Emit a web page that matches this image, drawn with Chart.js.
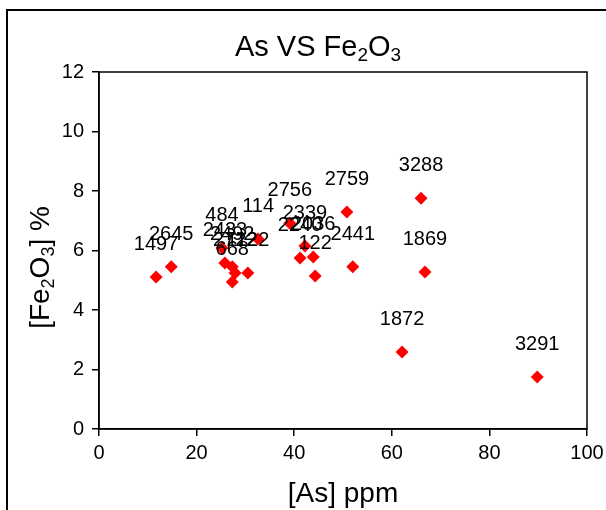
<!DOCTYPE html>
<html>
<head>
<meta charset="utf-8">
<script src="https://cdn.jsdelivr.net/npm/chart.js@4/dist/chart.umd.min.js"></script>
<style>
  body { margin: 0; background: #fff; }
  canvas { display: block; }
</style>
</head>
<body>
<canvas id="chart" width="606" height="510"></canvas>
<script>
// Sample numbers, arsenic (ppm) and iron oxide (%)
const sampleIds = ['1497', '2645', '484', '2433', '2492', '2722', '668', '1122', '114',
  '2756', '2339', '2240', '2036', '122', '2759', '2441', '3288', '1869', '1872', '3291'];
const asPpm = [11.7, 14.8, 25.2, 25.8, 27.3, 27.9, 27.3, 30.5, 32.6,
  39.1, 42.2, 41.2, 43.9, 44.3, 50.8, 52.0, 66.0, 66.8, 62.1, 89.8];
const fe2o3Pct = [5.11, 5.45, 6.08, 5.58, 5.45, 5.24, 4.94, 5.24, 6.39,
  6.92, 6.15, 5.75, 5.78, 5.14, 7.29, 5.45, 7.76, 5.28, 2.59, 1.75];

const xTicks = [0, 20, 40, 60, 80, 100];
const yTicks = [0, 2, 4, 6, 8, 10, 12];

const FONT = 'Arial, "Liberation Sans", sans-serif';

// Draw text with subscript runs, centred on (x, y) baseline
function drawRich(ctx, parts, x, y, size) {
  const subSize = Math.round(size * 0.66);
  let total = 0;
  parts.forEach(p => {
    ctx.font = (p.sub ? subSize : size) + 'px ' + FONT;
    p.w = ctx.measureText(p.t).width;
    total += p.w;
  });
  let cx = x - total / 2;
  ctx.textAlign = 'left';
  ctx.textBaseline = 'alphabetic';
  parts.forEach(p => {
    ctx.font = (p.sub ? subSize : size) + 'px ' + FONT;
    ctx.fillText(p.t, cx, p.sub ? y + size * 0.18 : y);
    cx += p.w;
  });
}

const decorations = {
  id: 'decorations',
  afterDraw(chart) {
    const ctx = chart.ctx;
    const a = chart.chartArea;
    ctx.save();
    ctx.fillStyle = '#000';
    ctx.strokeStyle = '#000';

    // outer frame
    ctx.lineWidth = 2;
    ctx.strokeRect(7, 10, 700, 600);

    // plot area box
    ctx.lineWidth = 1.5;
    ctx.strokeRect(a.left, a.top, a.right - a.left, a.bottom - a.top);

    // title and axis titles
    drawRich(ctx, [{ t: 'As VS Fe' }, { t: '2', sub: true }, { t: 'O' }, { t: '3', sub: true }], 318, 56, 29);
    drawRich(ctx, [{ t: '[As] ppm' }], (a.left + a.right) / 2, 502, 28);
    ctx.translate(49, (a.top + a.bottom) / 2 + 17);
    ctx.rotate(-Math.PI / 2);
    drawRich(ctx, [{ t: '[Fe' }, { t: '2', sub: true }, { t: 'O' }, { t: '3', sub: true }, { t: '] %' }], 0, 0, 28);
    ctx.restore();
  },
  afterDatasetsDraw(chart) {
    // sample number above each point
    const ctx = chart.ctx;
    const pts = chart.getDatasetMeta(0).data;
    ctx.save();
    ctx.fillStyle = '#000';
    ctx.font = '20px ' + FONT;
    ctx.textAlign = 'center';
    ctx.textBaseline = 'alphabetic';
    pts.forEach((pt, i) => {
      ctx.fillText(sampleIds[i], pt.x, pt.y - 27);
    });
    ctx.restore();
  }
};

const points = asPpm.map((x, i) => ({ x: x, y: fe2o3Pct[i] }));

new Chart(document.getElementById('chart').getContext('2d'), {
  type: 'scatter',
  data: {
    datasets: [{
      data: points,
      pointStyle: 'rectRot',
      pointRadius: 6.5,
      pointHoverRadius: 6.5,
      backgroundColor: '#ff0000',
      borderColor: '#ff0000',
      borderWidth: 0
    }]
  },
  options: {
    responsive: false,
    animation: false,
    events: [],
    layout: { padding: { top: 72, right: 19, left: 0, bottom: 0 } },
    plugins: {
      legend: { display: false },
      title: { display: false },
      tooltip: { enabled: false }
    },
    scales: {
      x: {
        type: 'linear',
        min: 0,
        max: 100,
        afterFit(scale) {
          scale.height = 81;
          scale.paddingLeft = 0;
          scale.paddingRight = 0;
        },
        afterBuildTicks(scale) { scale.ticks = xTicks.map(v => ({ value: v })); },
        grid: { drawOnChartArea: false, drawTicks: true, tickLength: 7, color: '#000', lineWidth: 1.5 },
        border: { display: true, color: '#000', width: 1.5 },
        ticks: { color: '#000', font: { family: FONT, size: 20 }, padding: 5, maxRotation: 0 }
      },
      y: {
        type: 'linear',
        min: 0,
        max: 12,
        afterFit(scale) {
          scale.width = 99;
          scale.paddingTop = 0;
          scale.paddingBottom = 0;
        },
        afterBuildTicks(scale) { scale.ticks = yTicks.map(v => ({ value: v })); },
        grid: { drawOnChartArea: false, drawTicks: true, tickLength: 7, color: '#000', lineWidth: 1.5 },
        border: { display: true, color: '#000', width: 1.5 },
        ticks: { color: '#000', font: { family: FONT, size: 20 }, padding: 8 }
      }
    }
  },
  plugins: [decorations]
});
</script>
</body>
</html>
